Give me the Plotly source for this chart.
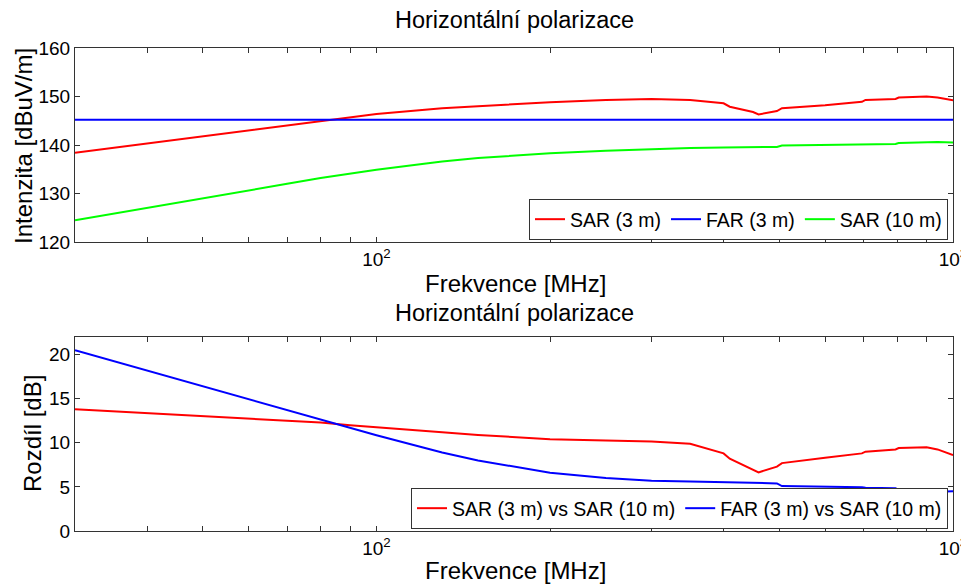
import plotly.graph_objects as go

# frequency grid [MHz]
freq = [30, 40, 50, 60, 70, 80, 90, 100, 120, 130, 150, 181, 200, 250, 300, 350,
        400, 410, 450, 460, 495, 505, 600, 695, 705, 795, 805, 900, 940, 1000]

# top panel: field strength [dBuV/m]
sar3 = [138.4, 140.3, 141.8, 143.0, 144.0, 144.9, 145.7, 146.4, 147.2, 147.6, 148.0, 148.6,
        148.8, 149.3, 149.5, 149.3, 148.6, 147.9, 146.8, 146.3, 147.0, 147.6, 148.2, 148.9,
        149.3, 149.5, 149.8, 150.0, 149.8, 149.2]
far3 = [145.2] * len(freq)
sar10 = [124.5, 127.0, 129.0, 130.6, 132.0, 133.2, 134.1, 134.9, 136.1, 136.6, 137.3, 138.0,
         138.3, 138.8, 139.2, 139.4, 139.5, 139.5, 139.6, 139.6, 139.6, 139.9, 140.0, 140.1,
         140.2, 140.2, 140.4, 140.6, 140.6, 140.5]

# bottom panel: differences [dB]
d_sar = [13.8, 13.35, 13.0, 12.75, 12.5, 12.3, 12.0, 11.75, 11.4, 11.2, 10.9, 10.55,
         10.4, 10.25, 10.15, 9.9, 8.8, 8.2, 7.0, 6.65, 7.3, 7.7, 8.3, 8.8,
         9.0, 9.25, 9.4, 9.5, 9.25, 8.6]
d_far = [20.5, 18.2, 16.4, 14.9, 13.65, 12.6, 11.7, 10.85, 9.5, 8.9, 8.0, 7.05,
         6.6, 6.0, 5.7, 5.6, 5.5, 5.5, 5.45, 5.4, 5.4, 5.1, 5.05, 4.97,
         4.9, 4.85, 4.65, 4.45, 4.45, 4.5]

FONT = "Liberation Sans, Arial, sans-serif"
W, H = 961, 577
OFF = 8  # page body margin
L = 75 - OFF
R = W - (953 - OFF)

def py(px):  # page pixel row -> paper y
    return 1 - (px - OFF) / H

def pxx(px):  # page pixel column -> paper x
    return (px - OFF - L) / (W - L - R)

fig = go.Figure()
top = [("SAR (3 m)", sar3, "#ff0000"), ("FAR (3 m)", far3, "#0000ff"), ("SAR (10 m)", sar10, "#00ff00")]
for name, ys, c in top:
    fig.add_trace(go.Scatter(x=freq, y=ys, name=name, mode="lines", line=dict(color=c, width=2),
                             xaxis="x", yaxis="y", legend="legend"))
bot = [("SAR (3 m) vs SAR (10 m)", d_sar, "#ff0000"), ("FAR (3 m) vs SAR (10 m)", d_far, "#0000ff")]
for name, ys, c in bot:
    fig.add_trace(go.Scatter(x=freq, y=ys, name=name, mode="lines", line=dict(color=c, width=2),
                             xaxis="x2", yaxis="y2", legend="legend2"))

xticks = [40, 50, 60, 70, 80, 90, 100, 200, 300, 400, 500, 600, 700, 800, 900, 1000]
xtext = ["10<sup>2</sup>" if v == 100 else "10<sup>3</sup>" if v == 1000 else "" for v in xticks]
xcommon = dict(type="log", range=[1.4771, 3], tickmode="array", tickvals=xticks, ticktext=xtext,
               ticks="inside", ticklen=5, tickcolor="#333", showline=True, linecolor="#333",
               linewidth=1, mirror="ticks", showgrid=False, zeroline=False, automargin=False,
               tickfont=dict(size=19, color="black"))
ycommon = dict(ticks="inside", ticklen=5, tickcolor="#333", showline=True, linecolor="#333",
               linewidth=1, mirror="ticks", showgrid=False, zeroline=False, automargin=False,
               tickfont=dict(size=19, color="black"))

fig.update_layout(
    width=W, height=H, margin=dict(l=L, r=R, t=0, b=0, autoexpand=False),
    paper_bgcolor="white", plot_bgcolor="white",
    font=dict(family=FONT, color="black"),
    xaxis=dict(domain=[0, 1], anchor="y", **xcommon),
    yaxis=dict(domain=[py(242), py(48)], anchor="x", range=[120, 160],
               tickvals=[120, 130, 140, 150, 160], **ycommon),
    xaxis2=dict(domain=[0, 1], anchor="y2", **xcommon),
    yaxis2=dict(domain=[py(531), py(337)], anchor="x2", range=[0, 22],
                tickvals=[0, 5, 10, 15, 20], **ycommon),
    legend=dict(orientation="h", x=pxx(948), xanchor="right", y=py(240), yanchor="bottom",
                bgcolor="white", bordercolor="#333", borderwidth=1, font=dict(size=19.5),
                itemwidth=30, tracegroupgap=0),
    legend2=dict(orientation="h", x=pxx(948), xanchor="right", y=py(529), yanchor="bottom",
                 bgcolor="white", bordercolor="#333", borderwidth=1, font=dict(size=19.5),
                 itemwidth=30, tracegroupgap=0),
    showlegend=True,
)

ann = [
    ("Horizontální polarizace", 514, 20, 23.5, 0),
    ("Horizontální polarizace", 514, 313, 23.5, 0),
    ("Frekvence [MHz]", 515, 283, 24, 0),
    ("Frekvence [MHz]", 515, 570, 24, 0),
    ("Intenzita [dBuV/m]", 23, 146, 24, -90),
    ("Rozdíl [dB]", 32, 434, 24, -90),
]
for text, x, y, size, ang in ann:
    fig.add_annotation(text=text, xref="paper", yref="paper", x=pxx(x), y=py(y),
                       xanchor="center", yanchor="middle", showarrow=False,
                       textangle=ang, font=dict(size=size, color="black", family=FONT))

fig.write_html("out.html")
